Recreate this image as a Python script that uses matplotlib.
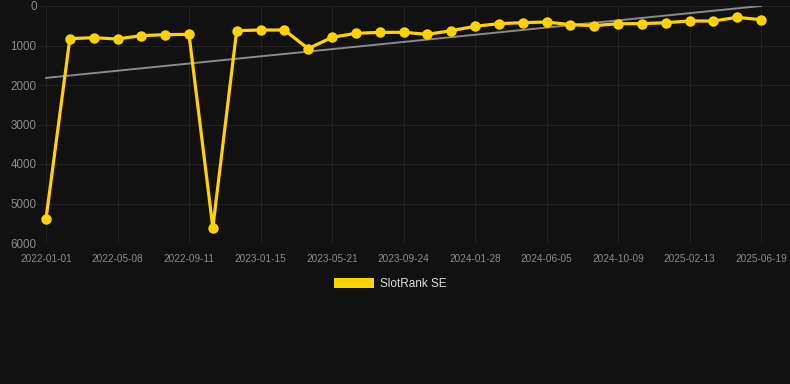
import numpy as np
import matplotlib
matplotlib.use("Agg")
import matplotlib.pyplot as plt
from matplotlib.patches import Patch

plt.rcParams['font.family'] = ['Liberation Sans', 'DejaVu Sans']

# rank values, one per sample (about every 6 weeks)
ranks = [5390, 827, 802, 835, 751, 726, 717, 5612, 625, 608, 608, 1080,
         793, 692, 667, 667, 717, 625, 515, 447, 422, 405, 473, 498,
         447, 447, 422, 380, 380, 287, 346]
tick_labels = ['2022-01-01', '2022-05-08', '2022-09-11', '2023-01-15',
               '2023-05-21', '2023-09-24', '2024-01-28', '2024-06-05',
               '2024-10-09', '2025-02-13', '2025-06-19']
series_name = 'SlotRank SE'

BG = '#111111'
GOLD = '#FFD200'
GRID = '#212121'
TXT = '#8c8c8c'

x = np.arange(len(ranks))
# linear trend through the points
k, b = np.polyfit(x, ranks, 1)

fig = plt.figure(figsize=(7.9, 3.84), dpi=100, facecolor=BG)
ax = fig.add_axes([38 / 790, (384 - 243) / 384, 752 / 790, 237 / 384])
ax.set_facecolor(BG)

ax.plot(x, k * x + b, color='#8a8a8a', lw=1.4, zorder=2)
ax.plot(x, ranks, color=GOLD, lw=2.3, marker='o', ms=7.5,
        markeredgewidth=0, zorder=3, solid_joinstyle='miter')

px = 715 / 30
ax.set_xlim(-8 / px, 30 + 29 / px)
ax.set_ylim(6000, 0)
ax.set_xticks(x[::3])
ax.set_xticklabels(tick_labels)
ax.set_yticks(range(0, 6001, 1000))

ax.grid(True, color=GRID, lw=0.8)
ax.set_axisbelow(True)
for s in ax.spines.values():
    s.set_visible(False)
ax.tick_params(axis='x', length=0, pad=8, labelsize=7.2, labelcolor=TXT)
ax.tick_params(axis='y', length=0, pad=1, labelsize=8.4, labelcolor=TXT)

handle = Patch(facecolor=GOLD, edgecolor='none')
fig.legend([handle], [series_name], loc='center',
           bbox_to_anchor=(390 / 790, (384 - 284) / 384),
           frameon=False, fontsize=8.5, labelcolor='#dddddd',
           handlelength=3.4, handleheight=1.0, handletextpad=0.5)

fig.savefig('out.png', dpi=100, facecolor=BG)
